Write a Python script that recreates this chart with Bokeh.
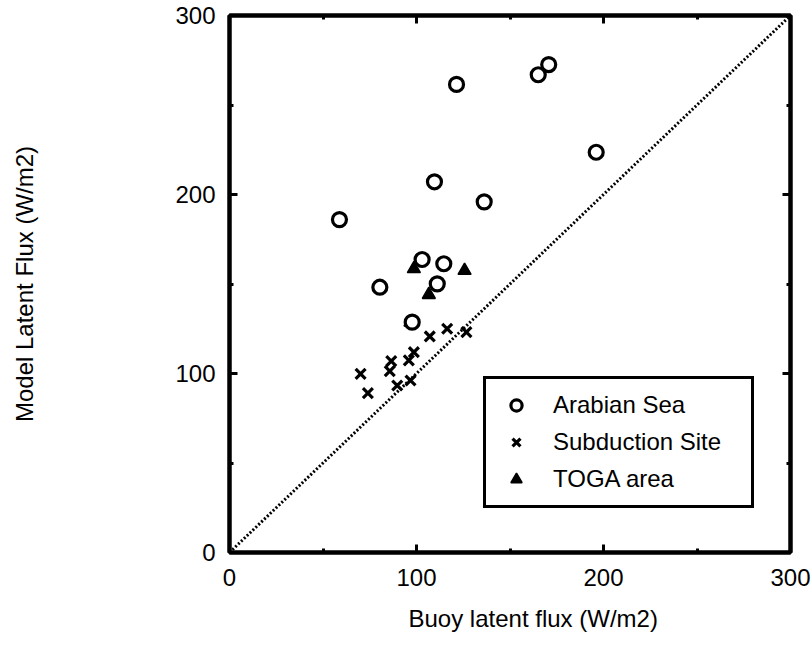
import math
from bokeh.plotting import figure
from bokeh.models import Range1d, FixedTicker, LinearAxis, Title
from bokeh.embed import file_html
from bokeh.resources import INLINE

# Arabian Sea (circles)
arabian_x = [121.4, 165.1, 170.7, 196.1, 109.6, 136.2, 58.8, 103.0, 114.6, 80.4, 111.1, 97.7]
arabian_y = [261.5, 266.9, 272.6, 223.6, 207.1, 195.9, 186.0, 163.7, 161.3, 148.2, 150.1, 128.7]

# Subduction Site (crosses)
subd_x = [107.1, 116.4, 126.7, 98.6, 95.9, 86.5, 85.7, 70.1, 74.0, 89.7, 96.8]
subd_y = [120.7, 125.0, 123.1, 111.9, 107.3, 106.9, 101.3, 99.8, 89.0, 93.3, 96.1]

# TOGA area (triangles)
toga_x = [98.6, 125.7, 106.6, 96.8]
toga_y = [158.5, 157.5, 144.0, 128.7]

# 1:1 line
diag_x = [0, 300]
diag_y = [0, 300]

major_ticks = [0, 100, 200, 300]
minor_ticks = [50, 150, 250]

FONT = "Liberation Sans"

p = figure(width=812, height=645, output_backend="svg", toolbar_location=None,
           x_range=Range1d(0, 300), y_range=Range1d(0, 300),
           min_border_left=229, min_border_right=22, min_border_top=15, min_border_bottom=93)
p.grid.visible = False
p.background_fill_color = "white"
p.border_fill_color = "white"
p.outline_line_color = "black"
p.outline_line_width = 4

ticker = FixedTicker(ticks=major_ticks, minor_ticks=minor_ticks)

def style_axis(ax, labels=True):
    ax.ticker = ticker
    ax.axis_line_color = "black"
    ax.axis_line_width = 4
    ax.major_tick_in = 8
    ax.major_tick_out = 0
    ax.minor_tick_in = 4
    ax.minor_tick_out = 0
    ax.major_tick_line_width = 3
    ax.minor_tick_line_width = 3
    ax.major_tick_line_color = "black"
    ax.minor_tick_line_color = "black"
    ax.major_label_text_font = FONT
    ax.major_label_text_font_size = "24px"
    ax.major_label_text_color = "black"
    if not labels:
        ax.major_label_text_font_size = "0px"
        ax.major_label_text_color = None

style_axis(p.xaxis[0])
style_axis(p.yaxis[0])
p.xaxis[0].major_label_standoff = 16
p.yaxis[0].major_label_standoff = 14

p.yaxis[0].axis_label = "Model Latent Flux (W/m2)"
p.yaxis[0].axis_label_text_font = FONT
p.yaxis[0].axis_label_text_font_size = "24px"
p.yaxis[0].axis_label_text_font_style = "normal"
p.yaxis[0].axis_label_text_color = "black"
p.yaxis[0].axis_label_standoff = 134

right_ax = LinearAxis()
top_ax = LinearAxis()
style_axis(right_ax, labels=False)
style_axis(top_ax, labels=False)
p.add_layout(right_ax, "right")
p.add_layout(top_ax, "above")

xtitle = Title(text="Buoy latent flux (W/m2)", align="left", offset=179,
               text_font=FONT, text_font_size="24px", text_font_style="normal",
               text_color="black", standoff=28)
p.add_layout(xtitle, "below")

# diagonal
p.line(diag_x, diag_y, line_color="black", line_width=3, line_dash="2 2")

p.scatter(toga_x, toga_y, marker="triangle", size=13, fill_color="black", line_color="black",
          line_width=1.5, legend_label="TOGA area")
p.scatter(arabian_x, arabian_y, marker="circle", size=14, fill_color="white", line_color="black",
          line_width=3.2, legend_label="Arabian Sea")
p.scatter(subd_x, subd_y, marker="x", size=14, line_color="black", line_width=3.2,
          legend_label="Subduction Site")

leg = p.legend[0]
leg.items = [leg.items[1], leg.items[2], leg.items[0]]
leg.location = (254, 44)
leg.border_line_color = "black"
leg.border_line_alpha = 1
leg.border_line_width = 3
leg.background_fill_color = "white"
leg.background_fill_alpha = 1
leg.label_text_font = FONT
leg.label_text_font_size = "24px"
leg.label_text_color = "black"
leg.padding = 12
leg.spacing = 9
leg.label_height = 28
leg.glyph_height = 28
leg.glyph_width = 36
leg.label_standoff = 19
leg.label_width = 186
leg.margin = 0

open("out.html", "w").write(file_html(p, INLINE))
